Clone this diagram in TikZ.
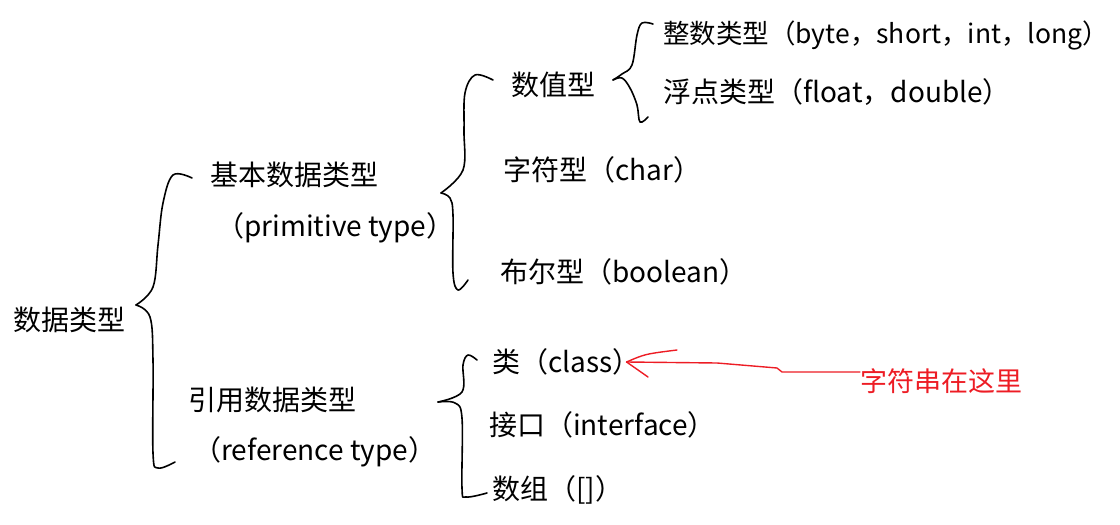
\documentclass[tikz,border=0pt]{standalone}
\usepackage{fontspec}
\newfontfamily\cjk{Noto Sans CJK SC}
\usetikzlibrary{positioning}
\definecolor{notered}{RGB}{237,28,36}
\tikzset{
  item/.style={anchor=west,inner sep=0pt,font=\cjk\fontsize{28}{32}\selectfont},
  small item/.style={item,font=\cjk\fontsize{26.5}{30}\selectfont},
  note/.style={item,text=notered,font=\cjk\fontsize{27}{32}\selectfont},
  brace/.style={line width=1.6pt,line cap=round,line join=round},
}
\begin{document}
\begin{tikzpicture}[x=1pt,y=-1pt]
\useasboundingbox (0,0) rectangle (1120,525);
%labels
\node[item] (root) at (13,320) {数据类型};
\node[item] (prim) at (210,175) {基本数据类型};
\node[item] (primen) at (216,228) {（primitive type）};
\node[item] (ref) at (188,400) {引用数据类型};
\node[item] (refen) at (193,452) {（reference type）};
\node[item] (num) at (511,85) {数值型};
\node[small item] (int) at (663,35) {整数类型（byte，short，int，long）};
\node[item] (flt) at (663,92) {浮点类型（float，double）};
\node[item] (chr) at (503,170) {字符型（char）};
\node[item] (bool) at (500,272) {布尔型（boolean）};
\node[item] (cls) at (492,362) {类（class）};
\node[item] (ifc) at (489,425) {接口（interface）};
\node[item] (arr) at (492,490) {数组（[]）};
\node[note] (here) at (860,381) {字符串在这里};
%root
  \draw[brace] plot[smooth,tension=0.6] coordinates {(192,178) (173,175) (163,203) (158,245) (153,287) (136,305)};
  \draw[brace] plot[smooth,tension=0.6] coordinates {(136,305) (150,317) (153,360) (153,453) (158,468) (175,462)};
%prim
  \draw[brace] plot[smooth,tension=0.6] coordinates {(493,80) (475,75) (465,93) (464,130) (463,170) (441,193)};
  \draw[brace] plot[smooth,tension=0.6] coordinates {(441,193) (450,198) (453,215) (453,273) (458,290) (468,280)};
%num
  \draw[brace] plot[smooth,tension=0.6] coordinates {(653,24) (642,23) (637,35) (632,65) (622,74) (613,80)};
  \draw[brace] plot[smooth,tension=0.6] coordinates {(613,80) (622,78) (630,88) (637,105) (640,122) (648,117)};
%ref
  \draw[brace] plot[smooth,tension=0.6] coordinates {(477,360) (468,355) (463,365) (462,392) (438,402)};
  \draw[brace] plot[smooth,tension=0.6] coordinates {(438,402) (455,403) (462,418) (462,488) (466,497) (487,493)};
%arrow
  \draw[brace,notered,line width=1.4pt] ([yshift=9pt]here.west) -- (840,372) -- (782,372) -- (777,368) -- (717,363) -- ([xshift=-14pt]cls.east);
  \draw[brace,notered,line width=1.4pt] ([xshift=-14pt]cls.east) .. controls (645,354) .. (677,350);
  \draw[brace,notered,line width=1.4pt] ([xshift=-14pt]cls.east) -- (648,377);
\end{tikzpicture}
\end{document}
